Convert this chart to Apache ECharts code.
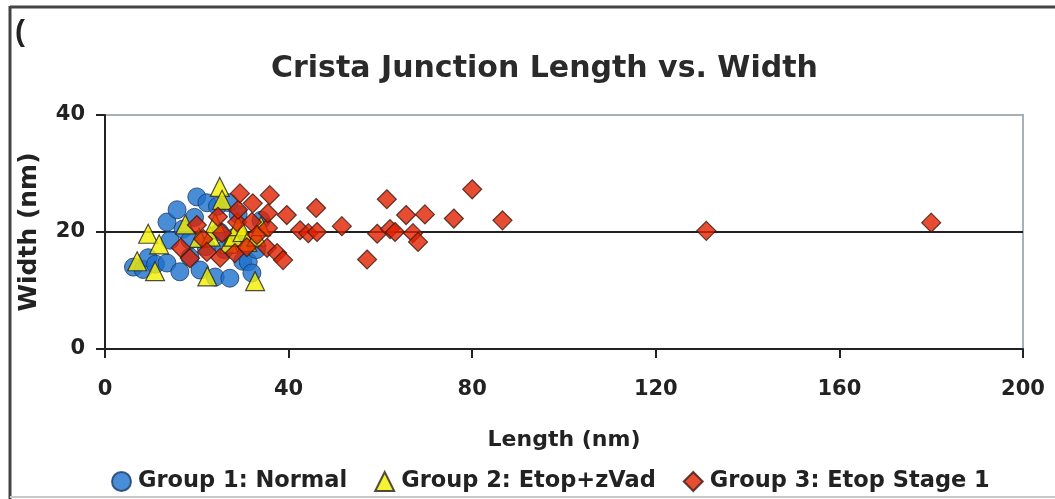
<!DOCTYPE html>
<html>
<head>
<meta charset="utf-8">
<script src="https://cdn.jsdelivr.net/npm/echarts@6/dist/echarts.min.js"></script>
<style>html,body{margin:0;padding:0;background:#fff}#c{width:1055px;height:499px}</style>
</head>
<body>
<div id="c"></div>
<script>
const titleText = 'Crista Junction Length vs. Width';
const seriesNames = ['Group 1: Normal', 'Group 2: Etop+zVad', 'Group 3: Etop Stage 1'];
const xTicks = [0, 40, 80, 120, 160, 200];
const yTicks = [0, 20, 40];

const group1 = [[6.2,14.0],[8.3,13.6],[9.4,15.6],[11,14.5],[13.5,14.7],[13.5,21.7],[14.2,18.6],[15.7,23.8],[16.3,13.2],[17,20.5],[18.5,15.7],[18.5,18.6],[19.5,22.5],[20,26.0],[20.7,13.5],[22.2,25.0],[22,17.5],[24,12.3],[24.5,24.4],[25,20],[26,17],[27.2,12.1],[28,19],[29,23],[30,15],[31.2,14.9],[32,13.0],[33,17],[34,22],[27,25]];
const group2 = [[7,15.0],[9.4,19.7],[10.9,13.3],[11.8,17.9],[17.5,21.3],[20.5,19],[22.3,12.4],[23,19.2],[24,21.5],[25,27.7],[25.5,25.5],[27,18],[28,19.2],[29,21],[30,20],[31,18.3],[32.7,11.6],[33,19.2],[34,21]];
const group3 = [[16.5,17.3],[18.5,15.5],[20,21.2],[21.4,18.8],[22.2,16.6],[24.6,22.6],[25.1,15.6],[25.5,19.8],[28.3,16.4],[28.8,21.7],[29,23.8],[29.4,26.6],[30.9,17.4],[32,21.7],[32.2,24.9],[33.1,19.5],[35.3,17.3],[35.5,20.7],[35.5,23.2],[35.9,26.3],[37.5,16.4],[38.8,15.2],[39.6,22.9],[42.5,20.3],[44.3,19.8],[46.0,24.1],[46.2,20.0],[51.6,21.0],[57.1,15.3],[59.3,19.7],[61.4,25.6],[62.1,20.5],[63.2,20.0],[65.6,22.9],[67.1,19.8],[68.2,18.3],[69.7,23.0],[76,22.3],[80,27.3],[86.6,22.0],[131,20.2],[180,21.6]];

const chart = echarts.init(document.getElementById('c'));
const txt = '#222';
const font = 'DejaVu Sans';
chart.setOption({
  animation: false,
  backgroundColor: '#fff',
  title: {
    text: titleText, left: 266, top: 49,
    textStyle: { fontFamily: font, fontWeight: 'bold', fontSize: 30, color: '#2a2a2a' }
  },
  grid: { left: 105, right: 32, top: 115, bottom: 150, show: true, borderColor: '#a8b0b8', borderWidth: 2 },
  xAxis: {
    type: 'value', min: 0, max: 200, interval: 40,
    name: 'Length (nm)', nameLocation: 'middle', nameGap: 80,
    nameTextStyle: { fontFamily: font, fontWeight: 'bold', fontSize: 22, color: txt },
    axisLine: { lineStyle: { color: '#222', width: 2 } },
    axisTick: { show: true, length: 9, lineStyle: { color: '#222', width: 2 } },
    axisLabel: { margin: 30, fontFamily: font, fontWeight: 'bold', fontSize: 21, color: txt,
      formatter: v => xTicks.includes(v) ? String(v) : '' },
    splitLine: { show: false }
  },
  yAxis: {
    type: 'value', min: 0, max: 40, interval: 20,
    name: 'Width (nm)', nameLocation: 'middle', nameGap: 63, nameRotate: 90,
    nameTextStyle: { fontFamily: font, fontWeight: 'bold', fontSize: 25, color: txt },
    axisLine: { lineStyle: { color: '#222', width: 2 } },
    axisTick: { show: true, length: 9, lineStyle: { color: '#222', width: 2 } },
    axisLabel: { margin: 20, fontFamily: font, fontWeight: 'bold', fontSize: 21, color: txt,
      formatter: v => yTicks.includes(v) ? String(v) : '' },
    splitLine: { show: true, lineStyle: { color: ['#222', '#222', '#a8b0b8'], width: 2 } }
  },
  legend: {
    left: 106, top: 465, itemGap: 27, itemWidth: 19, itemHeight: 19,
    textStyle: { fontFamily: font, fontWeight: 'bold', fontSize: 22.5, color: txt, padding: [0,0,0,2] },
    data: seriesNames
  },
  graphic: [
    { type: 'line', shape: { x1: 10, y1: 7, x2: 1055, y2: 7 }, style: { stroke: '#444', lineWidth: 3 } },
    { type: 'line', shape: { x1: 10, y1: 6, x2: 10, y2: 499 }, style: { stroke: '#444', lineWidth: 3 } },
    { type: 'line', shape: { x1: 10, y1: 497, x2: 1055, y2: 497 }, style: { stroke: '#c8c8c8', lineWidth: 2 } },
    { type: 'text', left: 15, top: 18, style: { text: '(', font: 'bold 30px "Liberation Sans"', fill: '#222' } }
  ],
  series: [
    { name: seriesNames[0], type: 'scatter', data: group1, symbol: 'circle', symbolSize: 18,
      itemStyle: { color: '#1b70cc', borderColor: '#1a3a66', borderWidth: 1 } },
    { name: seriesNames[1], type: 'scatter', data: group2, symbol: 'triangle', symbolSize: 19,
      itemStyle: { color: '#f2ee00', borderColor: '#222', borderWidth: 1.2 } },
    { name: seriesNames[2], type: 'scatter', data: group3, symbol: 'diamond', symbolSize: 19,
      itemStyle: { color: '#e02000', borderColor: '#3a1a10', borderWidth: 1.2 } }
  ]
});
</script>
</body>
</html>
